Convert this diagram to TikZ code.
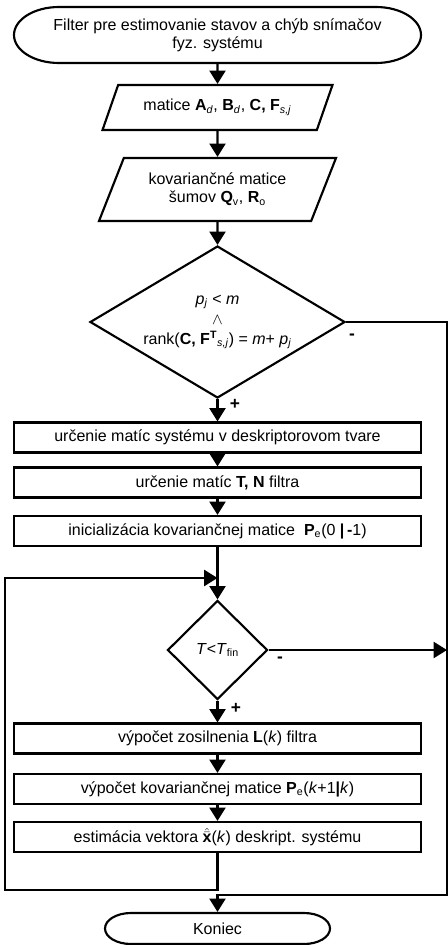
\documentclass[tikz,border=0pt]{standalone}
\usepackage{fontspec}
\setmainfont{Liberation Sans}
\usetikzlibrary{shapes.geometric,arrows.meta}

\tikzset{every picture/.style={line width=1.6pt}}
\tikzset{
  blok/.style={draw, rectangle, minimum width=305.25pt, minimum height=22.5pt, inner sep=0pt},
  vstup/.style={draw, trapezium, trapezium stretches body, align=center, inner sep=0pt},
  rozhod/.style={draw, diamond, align=center, inner sep=0pt},
  sipka/.style={-{Triangle[length=10pt,width=12pt]}},
  znak/.style={inner sep=0pt, font=\fontsize{13}{14}\selectfont\bfseries},
}

\begin{document}
\begin{tikzpicture}[x=0.75pt,y=0.75pt,yscale=-1,xscale=1,font=\fontsize{12}{13.5}\selectfont]
\useasboundingbox (0,0) rectangle (448,945);

%Shape: Terminal
\draw (59,7) -- (376,7) .. controls (400.8,7) and (421,19.5) .. (421,35) .. controls (421,50.5) and (400.8,63) .. (376,63) -- (59,63) .. controls (34.2,63) and (14,50.5) .. (14,35) .. controls (14,19.5) and (34.2,7) .. (59,7) -- cycle ;
\node [minimum width=305.25pt, minimum height=42pt, align=center, inner sep=0pt] (start) at (217.5,35) {Filter pre estimovanie stavov a chýb snímačov\\fyz. systému};

%Shape: Parallelogram
\node [vstup, trapezium left angle=46, trapezium right angle=134, minimum width=172.5pt, minimum height=33.75pt] (in1) at (217.5,107.5) {matice \textbf{A}\textsubscript{\textit{d}}, \textbf{B}\textsubscript{\textit{d}}, \textbf{C, F}\textsubscript{\textit{s,j}}};
%Shape: Parallelogram
\node [vstup, trapezium left angle=53, trapezium right angle=127, minimum width=177.75pt, minimum height=47.25pt] (in2) at (217.5,189.5) {kovariančné matice\\šumov \textbf{Q}\textsubscript{v}, \textbf{R}\textsubscript{o}};

%Shape: Diamond
\node [rozhod, aspect=1.68, minimum width=191.25pt, minimum height=114pt, font=\fontsize{12}{15}\selectfont] (dec1) at (217.5,322) {\textit{p}\textsubscript{\textit{j}} < \textit{m}\\$\wedge$\\rank(\textbf{C, F}\textsuperscript{\textbf{T}}\textsubscript{\textit{s,j}}) = \textit{m}+ \textit{p}\textsubscript{\textit{j}}};

%Shape: Rectangle
\node [blok] (box1) at (217.5,437.5) {určenie matíc systému v deskriptorovom tvare};
\node [blok] (box2) at (217.5,482.5) {určenie matíc \textbf{T, N} filtra};
\node [blok] (box3) at (217.5,531) {inicializácia kovariančnej matice \ \textbf{P}\textsubscript{e}(0 \textbf{|\,-}1)};

\coordinate (spoj) at (217.5,578);
\coordinate (slucka) at (5,890);
\coordinate (roh) at (447,895);

%Shape: Diamond
\node [rozhod, aspect=1, minimum width=75pt, minimum height=74.25pt] (dec2) at (217.5,650) {\textit{T}<\textit{T}\textsubscript{fin}};

%Shape: Rectangle
\node [blok] (box4) at (217.5,738.5) {výpočet zosilnenia \textbf{L}(\textit{k}) filtra};
\node [blok] (box5) at (217.5,789) {výpočet kovariančnej matice \textbf{P}\textsubscript{e}(\textit{k}+1\textbf{|}\textit{k})};
\node [blok] (box6) at (217.5,837) {estimácia vektora $\hat{\bar{\hbox{\bfseries x}}}$(\textit{k}) deskript. systému};

%Shape: Terminal
\draw (131,913) -- (304,913) .. controls (318.4,913) and (330,919.9) .. (330,928.5) .. controls (330,937.1) and (318.4,944) .. (304,944) -- (131,944) .. controls (116.6,944) and (105,937.1) .. (105,928.5) .. controls (105,919.9) and (116.6,913) .. (131,913) -- cycle ;
\node [minimum width=168.75pt, minimum height=23.25pt, inner sep=0pt] (koniec) at (217.5,928.5) {Koniec};

%Straight Lines
\draw [sipka] (start) -- (in1) ;
\draw [sipka] (in1) -- (in2) ;
\draw [sipka] (in2) -- (dec1) ;
\draw [sipka] (dec1) -- (box1) ;
\draw [sipka] (box1) -- (box2) ;
\draw [sipka] (box2) -- (box3) ;
\draw [sipka] (box3) -- (dec2) ;
\draw [sipka] (dec2) -- (box4) ;
\draw [sipka] (box4) -- (box5) ;
\draw [sipka] (box5) -- (box6) ;
%loop
\draw [sipka] (box6) -- (box6 |- slucka) -- (slucka) |- (spoj) ;
%exits
\draw [sipka] (dec1.east) -| (roh) -- (roh -| koniec) -- (koniec) ;
\draw [sipka] (dec2) -- (dec2 -| roh) ;

% Text Node
\node [znak] (plus1) at (235,404) {+};
\node [znak] (minus1) at (352,337) {-};
\node [znak] (plus2) at (236,708) {+};
\node [znak] (minus2) at (280,660) {-};

\end{tikzpicture}
\end{document}
